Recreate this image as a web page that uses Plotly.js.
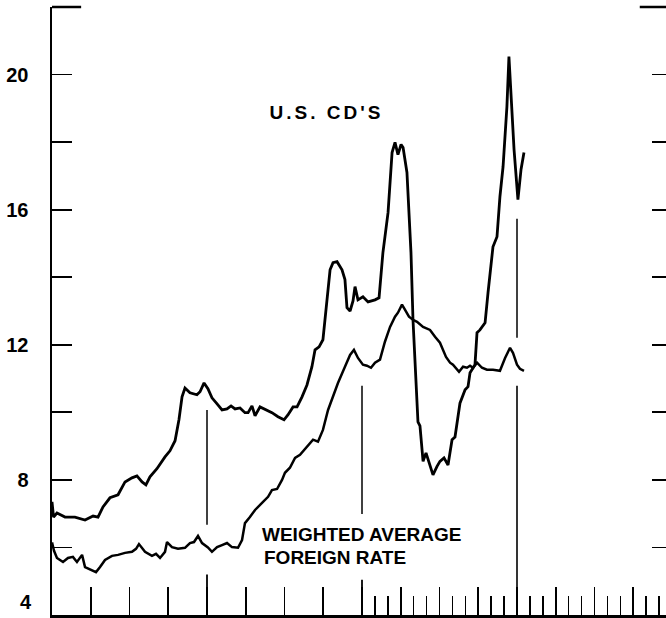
<!DOCTYPE html>
<html>
<head>
<meta charset="utf-8">
<script src="https://cdn.plot.ly/plotly-3.0.1.min.js"></script>
<style>
html, body { margin: 0; padding: 0; overflow: hidden; background: #fff; }
#chart { width: 682px; height: 618px; }
</style>
</head>
<body>
<div id="chart"></div>
<script>
// Time in decimal years (1978.0 = start of 1978)
const cdYears = [
  1978.000, 1978.010, 1978.032, 1978.084, 1978.148, 1978.213, 1978.265, 1978.297, 1978.329, 1978.374,
  1978.426, 1978.471, 1978.516, 1978.548, 1978.581, 1978.606, 1978.632, 1978.677, 1978.729, 1978.761,
  1978.794, 1978.819, 1978.839, 1978.858, 1978.890, 1978.935, 1978.955, 1978.981, 1979.006, 1979.032,
  1979.065, 1979.097, 1979.129, 1979.155, 1979.181, 1979.213, 1979.245, 1979.265, 1979.290, 1979.310,
  1979.342, 1979.387, 1979.419, 1979.458, 1979.497, 1979.523, 1979.555, 1979.581, 1979.613, 1979.645,
  1979.677, 1979.697, 1979.723, 1979.748, 1979.768, 1979.794, 1979.813, 1979.839, 1979.871, 1979.890,
  1979.903, 1979.923, 1979.942, 1979.955, 1979.974, 1980.006, 1980.039, 1980.084, 1980.110, 1980.135,
  1980.168, 1980.194, 1980.213, 1980.232, 1980.252, 1980.265, 1980.290, 1980.316, 1980.329, 1980.348,
  1980.361, 1980.374, 1980.394, 1980.413, 1980.439, 1980.458, 1980.484, 1980.503, 1980.529, 1980.555,
  1980.581, 1980.600, 1980.632, 1980.665, 1980.684, 1980.697, 1980.729, 1980.742, 1980.761, 1980.794,
  1980.813, 1980.845, 1980.871, 1980.890, 1980.910, 1980.935, 1980.948, 1980.961, 1980.981, 1981.006,
  1981.026, 1981.045
];
const cdRates = [
  7.35, 6.90, 7.02, 6.90, 6.90, 6.81, 6.93, 6.90, 7.20, 7.47,
  7.56, 7.94, 8.06, 8.12, 7.94, 7.85, 8.09, 8.33, 8.68, 8.86,
  9.16, 9.78, 10.46, 10.72, 10.58, 10.52, 10.61, 10.87, 10.70, 10.43,
  10.25, 10.07, 10.10, 10.19, 10.10, 10.13, 9.99, 9.99, 10.19, 9.90,
  10.16, 10.07, 9.99, 9.87, 9.78, 9.93, 10.16, 10.16, 10.46, 10.81,
  11.35, 11.85, 11.94, 12.15, 13.13, 14.22, 14.43, 14.46, 14.22, 13.93,
  13.10, 13.00, 13.30, 13.72, 13.33, 13.42, 13.27, 13.33, 13.39, 14.73,
  15.91, 17.69, 17.99, 17.63, 17.93, 17.84, 17.10, 14.73, 12.74, 10.76,
  9.72, 9.60, 8.55, 8.80, 8.40, 8.15, 8.40, 8.55, 8.65, 8.44,
  9.19, 9.27, 10.27, 10.67, 10.76, 11.17, 11.41, 12.36, 12.44, 12.65,
  13.54, 14.90, 15.20, 16.39, 17.27, 19.05, 20.53, 19.56, 17.78, 16.30,
  17.19, 17.69
];

const foreignYears = [
  1978.000, 1978.013, 1978.032, 1978.071, 1978.103, 1978.135, 1978.161, 1978.194, 1978.213, 1978.245,
  1978.284, 1978.310, 1978.342, 1978.387, 1978.426, 1978.471, 1978.516, 1978.542, 1978.561, 1978.600,
  1978.645, 1978.671, 1978.697, 1978.729, 1978.742, 1978.774, 1978.813, 1978.858, 1978.890, 1978.916,
  1978.942, 1978.968, 1979.006, 1979.032, 1979.065, 1979.097, 1979.129, 1979.161, 1979.200, 1979.226,
  1979.245, 1979.277, 1979.310, 1979.355, 1979.394, 1979.419, 1979.452, 1979.484, 1979.503, 1979.535,
  1979.568, 1979.600, 1979.645, 1979.684, 1979.716, 1979.748, 1979.781, 1979.813, 1979.845, 1979.890,
  1979.923, 1979.948, 1979.974, 1980.006, 1980.032, 1980.058, 1980.084, 1980.116, 1980.148, 1980.181,
  1980.213, 1980.232, 1980.258, 1980.277, 1980.303, 1980.329, 1980.355, 1980.394, 1980.439, 1980.471,
  1980.503, 1980.542, 1980.568, 1980.587, 1980.626, 1980.652, 1980.677, 1980.697, 1980.716, 1980.742,
  1980.774, 1980.806, 1980.845, 1980.890, 1980.923, 1980.955, 1980.974, 1981.000, 1981.019, 1981.045
];
const foreignRates = [
  6.15, 5.90, 5.69, 5.57, 5.69, 5.72, 5.57, 5.78, 5.42, 5.36,
  5.27, 5.42, 5.63, 5.75, 5.78, 5.84, 5.87, 5.96, 6.10, 5.87,
  5.75, 5.81, 5.69, 5.87, 6.16, 6.01, 5.96, 5.99, 6.13, 6.16,
  6.34, 6.13, 6.00, 5.87, 6.01, 6.07, 6.13, 6.01, 5.99, 6.22,
  6.72, 6.90, 7.11, 7.32, 7.50, 7.70, 7.73, 8.00, 8.21, 8.36,
  8.65, 8.74, 8.98, 9.19, 9.13, 9.48, 10.07, 10.50, 10.87, 11.35,
  11.70, 11.85, 11.61, 11.41, 11.38, 11.32, 11.47, 11.56, 12.09, 12.53,
  12.83, 12.95, 13.19, 13.04, 12.83, 12.74, 12.68, 12.53, 12.44, 12.24,
  12.06, 11.64, 11.47, 11.41, 11.20, 11.35, 11.32, 11.38, 11.32, 11.47,
  11.32, 11.26, 11.26, 11.23, 11.61, 11.91, 11.76, 11.41, 11.29, 11.23
];

const yTickVals = [4, 6, 8, 10, 12, 14, 16, 18, 20, 22];
const yTickText = ['', '', '8', '', '12', '', '16', '', '20', ''];
const bottomLabel = '4';
const seriesLabels = ["U.S. CD'S", 'WEIGHTED AVERAGE', 'FOREIGN RATE'];

// Axis tick structure: quarters for the whole span, months for 1980-1981
const quarterTicks = [];
for (let y = 1978; y < 1982; y++) for (let q = 0; q < 4; q++) if (!(y === 1978 && q === 0)) quarterTicks.push(y + q / 4);
const monthTicks = [];
for (let y = 1980; y < 1982; y++) for (let m = 1; m < 12; m++) if (m % 3 !== 0) monthTicks.push(y + m / 12);

const ink = '#000';
const fontFam = 'Liberation Sans, Arial, sans-serif';

const traces = [
  { x: cdYears, y: cdRates, mode: 'lines', line: { color: ink, width: 2.8 }, name: seriesLabels[0], hoverinfo: 'skip' },
  { x: foreignYears, y: foreignRates, mode: 'lines', line: { color: ink, width: 2.5 }, name: 'Weighted average foreign rate', hoverinfo: 'skip' }
];

function vseg(x, y0, y1, w) {
  return { type: 'line', xref: 'x', yref: 'y', x0: x, x1: x, y0: y0, y1: y1, line: { color: ink, width: w } };
}

const layout = {
  width: 682, height: 618,
  margin: { l: 52, r: 10, t: 7, b: 3 },
  paper_bgcolor: '#fff', plot_bgcolor: '#fff',
  showlegend: false,
  xaxis: {
    range: [1978, 1982], showgrid: false, zeroline: false,
    showline: true, linecolor: ink, linewidth: 2.5,
    ticks: 'inside', tickmode: 'array', tickvals: quarterTicks, ticklen: 28, tickwidth: 1.8, tickcolor: ink,
    showticklabels: false,
    minor: { tickmode: 'array', tickvals: monthTicks, ticks: 'inside', ticklen: 19, tickwidth: 1.6, tickcolor: ink, showgrid: false }
  },
  yaxis: {
    range: [4, 22], showgrid: false, zeroline: false,
    showline: true, linecolor: ink, linewidth: 2.5, mirror: 'ticks',
    ticks: 'inside', tickmode: 'array', tickvals: yTickVals, ticktext: yTickText,
    ticklen: 20, tickwidth: 1.8, tickcolor: ink,
    ticklabelstandoff: 17,
    tickfont: { family: fontFam, size: 20, color: ink, weight: 700 }
  },
  shapes: [
    // year separators (with gaps around the curves) and tall annual ticks
    vseg(1979, 6.67, 10.07, 1.5),
    vseg(1979, 4, 5.2, 1.8),
    vseg(1980, 6.99, 10.79, 1.5),
    vseg(1980, 4, 5.04, 1.8),
    vseg(1981, 12.21, 15.73, 1.5),
    vseg(1981, 4, 10.79, 1.6),
    // long ticks at the top of both side scales
    { type: 'line', xref: 'paper', yref: 'paper', x0: 0, x1: 0.047, y0: 1, y1: 1, line: { color: ink, width: 2.5 } },
    { type: 'line', xref: 'paper', yref: 'paper', x0: 0.948, x1: 1, y0: 1, y1: 1, line: { color: ink, width: 2.5 } }
  ],
  annotations: [
    { x: 1979.768, y: 18.87, xref: 'x', yref: 'y', text: seriesLabels[0], showarrow: false, xanchor: 'center', yanchor: 'middle',
      font: { family: fontFam, size: 19, color: ink, weight: 700 } },
    { x: 1979.342, y: 6.37, xref: 'x', yref: 'y', text: seriesLabels[1], showarrow: false, xanchor: 'left', yanchor: 'middle',
      font: { family: fontFam, size: 19, color: ink, weight: 700 } },
    { x: 1979.355, y: 5.69, xref: 'x', yref: 'y', text: seriesLabels[2], showarrow: false, xanchor: 'left', yanchor: 'middle',
      font: { family: fontFam, size: 19, color: ink, weight: 700 } },
    // bottom scale value, lifted slightly so it stays inside the page as in the original
    { x: 0, y: 4, xref: 'paper', yref: 'y', text: bottomLabel, showarrow: false, xanchor: 'right', yanchor: 'bottom',
      xshift: -19, yshift: 1, borderpad: 0,
      font: { family: fontFam, size: 20, color: ink, weight: 700 } }
  ]
};

Plotly.newPlot('chart', traces, layout, { staticPlot: true, displayModeBar: false }).then(function () {
  const t = document.querySelectorAll('.annotation-text')[0];
  if (t) t.style.letterSpacing = '3px';
});
</script>
</body>
</html>
